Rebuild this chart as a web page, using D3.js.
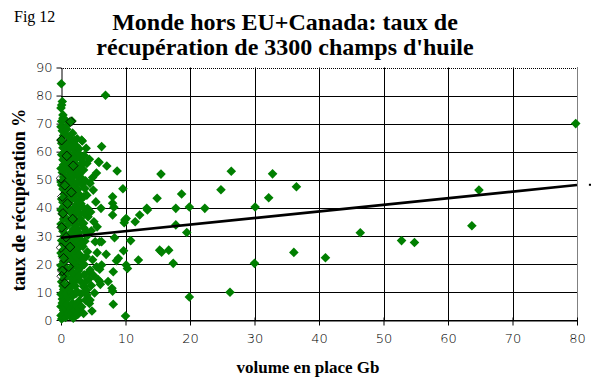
<!DOCTYPE html>
<html><head><meta charset="utf-8">
<script src="https://cdn.jsdelivr.net/npm/d3@7/dist/d3.min.js"></script>
<style>body{margin:0;background:#fff}svg{display:block}</style>
</head><body>
<svg id="c" width="591" height="382"></svg>
<script>
// Data: [volume en place Gb, taux de récupération %]
const smallFields = [
 [0.1,0.4],[0.3,2.1],[0.0,4.8],[0.2,7.5],[0.4,10.9],[0.1,13.6],[0.3,16.2],[0.0,19.4],[0.2,22.7],[0.4,25.1],[0.1,28.3],[0.3,31.6],[0.0,34.2],[0.2,37.8],[0.4,40.5],[0.1,43.1],[0.3,46.7],[0.0,49.2],[0.2,52.6],[0.4,55.3],[0.1,58.9],[0.3,61.4],[0.0,64.2],[0.2,67.5],[0.1,70.8],[0.3,73.1],[0.0,75.6],[0.2,77.9],[0.05,84.2],
 [0.0,1.6],[0.4,3.4],[0.2,6.1],[0.0,9.2],[0.3,12.1],[0.5,14.9],[0.1,18.0],[0.4,20.9],[0.0,23.9],[0.3,27.1],[0.5,30.0],[0.1,33.1],[0.4,36.0],[0.0,39.2],[0.3,42.0],[0.5,44.9],[0.1,48.1],[0.4,51.0],[0.0,54.0],[0.3,57.1],[0.5,59.8],[0.1,63.0],[0.4,65.8],[0.0,68.9],[0.3,71.9],[0.1,76.6],
 [0.7,0.9],[0.9,3.6],[0.6,6.3],[0.8,9.2],[1.0,12.4],[0.7,15.1],[0.9,18.3],[0.6,21.0],[0.8,24.2],[1.0,27.4],[0.7,30.1],[0.9,33.5],[0.6,36.4],[0.8,39.0],[1.0,42.2],[0.7,45.3],[0.9,48.1],[0.6,51.0],[0.8,54.4],[1.0,57.2],[0.7,60.1],[0.9,63.0],[0.6,66.3],[0.8,69.1],[0.5,71.7],
 [1.1,2.4],[0.9,5.5],[1.2,10.6],[1.0,16.7],[1.1,22.8],[0.9,25.9],[1.2,29.6],[1.0,35.8],[1.1,40.1],[0.9,43.6],[1.2,46.6],[1.0,50.2],[1.1,53.1],[0.9,56.0],[1.2,59.5],[1.0,62.2],[1.1,65.4],[0.9,68.0],
 [1.3,1.5],[1.5,4.2],[1.2,7.9],[1.4,11.3],[1.6,14.8],[1.3,18.0],[1.5,21.6],[1.2,24.9],[1.4,28.4],[1.6,31.2],[1.3,34.9],[1.5,38.2],[1.2,41.7],[1.4,44.6],[1.6,47.9],[1.3,51.4],[1.5,54.8],[1.2,58.0],[1.4,61.3],[1.6,64.2],[1.4,70.6],[1.7,70.9],
 [1.7,2.7],[1.8,6.0],[1.6,9.9],[1.8,13.4],[1.7,16.9],[1.9,19.6],[1.7,22.3],[1.8,26.1],[1.6,29.3],[1.9,32.4],[1.7,35.7],[1.8,39.4],[1.6,42.9],[1.9,46.1],[1.7,49.4],[1.8,52.4],[1.6,55.9],[1.9,59.0],[1.7,62.3],[1.8,66.6],
 [1.9,0.6],[2.1,3.4],[1.8,8.6],[2.2,12.1],[2.0,16.5],[2.3,20.3],[1.9,23.8],[2.1,27.0],[1.8,30.6],[2.2,33.8],[2.0,37.2],[2.3,40.9],[1.9,44.2],[2.1,47.6],[1.8,50.9],[2.2,53.7],[2.0,56.8],[2.3,60.5],[2.1,64.0],[2.5,64.6],
 [2.4,5.2],[2.3,9.4],[2.4,14.3],[2.5,18.6],[2.4,22.4],[2.3,25.7],[2.5,28.6],[2.4,31.9],[2.3,35.3],[2.5,38.4],[2.4,42.6],[2.3,45.4],[2.5,49.0],[2.4,52.0],[2.3,55.6],[2.5,58.3],[2.4,62.0],
 [2.6,2.0],[2.8,6.8],[2.5,10.2],[3.0,13.9],[2.7,17.5],[3.1,21.2],[2.6,25.4],[2.9,29.0],[2.5,32.6],[3.0,36.1],[2.7,39.6],[3.2,43.3],[2.6,46.5],[2.9,50.2],[2.5,53.9],[3.0,57.6],[2.8,61.0],[3.3,63.8],
 [2.9,3.9],[3.1,9.3],[2.8,15.6],[3.2,19.1],[2.9,23.3],[3.1,27.1],[2.8,31.1],[3.2,34.2],[2.9,38.0],[3.1,41.4],[2.8,44.8],[3.2,48.3],[2.9,52.1],[3.1,55.2],[2.8,59.2],
 [3.5,11.9],[3.8,7.1],[4.0,10.7],[4.4,5.9],[3.2,4.7],[4.0,8.9],[4.5,7.1],[3.6,16.1],[4.4,17.2],[4.5,17.8],[3.9,22.6],[4.1,24.3],[3.7,28.1],[3.5,34.5],[4.1,39.8],[3.5,43.9],[3.8,31.5],[4.2,36.8],[3.4,40.2],[3.7,46.9],[4.5,48.7],[3.2,50.5],[3.5,53.5],[4.0,55.8],[3.6,58.6],[4.4,57.3],[3.2,64.1],[3.9,61.2],[3.6,19.8],[4.3,14.5],[3.4,26.2],[4.2,30.3],[4.0,44.5],
 [3.5,2.3],[3.7,13.3],[3.5,22.0],[3.6,37.9],[3.8,49.6],[3.4,56.1],[3.6,32.7],[3.7,9.8],
 [5.3,27.9],[5.1,35.0],[5.0,46.3],[5.5,19.0],[5.8,14.3],[6.0,13.7],[6.1,12.7],[6.0,18.1],[6.3,19.6],[6.0,27.9],[6.3,27.9],[6.2,39.8],[5.9,56.2],[5.8,56.4],[6.3,61.8],[4.8,3.2],[5.2,9.6],[4.9,21.5],[5.6,24.0],[4.7,31.8],[5.4,42.1],[4.9,50.8],[5.6,33.2],[4.6,38.5],[5.1,15.8],[4.7,12.3],[5.5,52.4],
 [7.0,23.4],[7.3,13.7],[7.9,11.3],[8.0,10.3],[8.1,5.6],[8.0,43.9],[8.0,37.4],[8.0,41.6],[8.2,40.2],[8.3,29.3],[8.6,21.1],[8.9,22.0],[8.1,17.2],[7.1,54.9],[8.7,53.1],[9.6,46.8],[9.9,35.6],[10.1,36.2],[9.8,34.7],[11.5,35.0],[12.2,37.4],[13.4,39.2],[10.8,28.3],[9.7,24.7],[10.1,19.6],[10.3,18.4],[12.0,21.4],[10.0,1.4],[6.9,80.1]
];
const largeFields = [
 [13.3,39.8],[14.9,43.4],[15.5,52.0],[18.7,44.9],[17.8,39.8],[19.9,40.3],[22.3,39.8],[17.8,33.9],[19.5,31.2],[15.3,24.9],[16.7,24.9],[15.6,24.2],[17.4,20.2],[19.9,8.2],[24.8,46.4],[26.4,53.0],[26.2,9.9],[30.0,20.2],[30.1,40.3],[32.2,43.6],[32.8,52.1],[36.5,47.5],[36.1,24.1],[41.0,22.2],[46.4,31.1],[52.8,28.3],[54.8,27.6],[63.7,33.6],[64.8,46.3],[79.8,70.0]
];
const outlinedFields = [
 [0.1,64.1],[1.5,70.7],[0.0,50.5],[0.6,48.0],[0.2,44.0],[1.0,41.5],[0.3,38.0],[0.1,33.0],[0.8,29.5],[0.0,25.8],[0.4,22.0],[1.2,19.0],[0.1,15.6],[0.6,13.0],[0.2,17.5],[1.4,26.0],[1.8,36.0],[1.6,45.5],[1.9,55.0],[0.9,58.5]
];
const trend = [[0,29.3],[80,48.1]];
const xTicks = [0,10,20,30,40,50,60,70,80];
const yTicks = [0,10,20,30,40,50,60,70,80,90];
const titleLines = ["Monde hors EU+Canada: taux de","récupération de 3300 champs d'huile"];

const svg = d3.select("#c");
const x = d3.scaleLinear().domain([0,80]).range([61,577]);
const y = d3.scaleLinear().domain([0,90]).range([320,67.5]);

// grid
const g = svg.append("g");
yTicks.forEach(t=>{
  g.append("line").attr("x1",x(0)).attr("x2",x(80)).attr("y1",Math.round(y(t))+0.5).attr("y2",Math.round(y(t))+0.5)
   .attr("stroke","#000").attr("stroke-width",1).attr("stroke-dasharray", t===90?"1,1":null);
});
xTicks.forEach(t=>{
  if(t===0) return;
  g.append("line").attr("x1",Math.round(x(t))+0.5).attr("x2",Math.round(x(t))+0.5).attr("y1",y(90)).attr("y2",y(0))
   .attr("stroke","#000").attr("stroke-dasharray", t===80?"1,1":null);
});

// axes
const yAxis = d3.axisLeft(y).tickValues(yTicks).tickSize(5).tickPadding(4).tickSizeOuter(0);
const ya = svg.append("g").attr("transform",`translate(${Math.round(x(0))+0.5},0)`).call(yAxis);
const xAxis = d3.axisBottom(x).tickValues(xTicks).tickSize(5).tickPadding(8).tickSizeOuter(0);
const xa = svg.append("g").attr("transform",`translate(0,${Math.round(y(0))+0.5})`).call(xAxis);
[ya,xa].forEach(a=>{
  a.attr("font-size",null);
  a.select(".domain").attr("stroke","#000");
  a.selectAll(".tick line").attr("stroke","#000");
  a.selectAll(".tick text").attr("fill","#000").style("font-family","'DejaVu Sans',sans-serif").style("font-size","13px").style("font-weight","200");
});
xa.selectAll(".tick line").attr("y1",-3);

// points
const diamond = "M0,-4.8L4.8,0L0,4.8L-4.8,0Z";
svg.append("g").selectAll("path").data(smallFields.concat(largeFields)).join("path")
  .attr("d",diamond).attr("transform",d=>`translate(${x(d[0])},${y(d[1])})`)
  .attr("fill","#007f00");
svg.append("g").selectAll("path").data(outlinedFields).join("path")
  .attr("d",diamond).attr("transform",d=>`translate(${x(d[0])},${y(d[1])})`)
  .attr("fill","none").attr("stroke","#000").attr("stroke-width",0.8);

// trend line
svg.append("path").datum(trend).attr("d",d3.line().x(d=>x(d[0])).y(d=>y(d[1])))
  .attr("stroke","#000").attr("stroke-width",2.6).attr("fill","none");
svg.append("rect").attr("x",x(82)-1).attr("y",y(48.2)-1).attr("width",3).attr("height",2).attr("fill","#000");

// titles
svg.append("text").attr("x",14).attr("y",22).text("Fig 12")
  .style("font-family","'Liberation Serif','Times New Roman',serif").style("font-size","16px");
titleLines.forEach((t,i)=>{
  svg.append("text").attr("x",285).attr("y",30+i*25).attr("text-anchor","middle").text(t)
   .style("font-family","'Liberation Serif','Times New Roman',serif").style("font-weight","bold").style("font-size","24px");
});
svg.append("text").attr("x",308).attr("y",373).attr("text-anchor","middle").text("volume en place Gb")
  .style("font-family","'Liberation Serif','Times New Roman',serif").style("font-weight","bold").style("font-size","17px");
svg.append("text").attr("transform","translate(25,200) rotate(-90)").attr("text-anchor","middle").text("taux de récupération %")
  .style("font-family","'Liberation Serif','Times New Roman',serif").style("font-weight","bold").style("font-size","18px");
</script>
</body></html>
